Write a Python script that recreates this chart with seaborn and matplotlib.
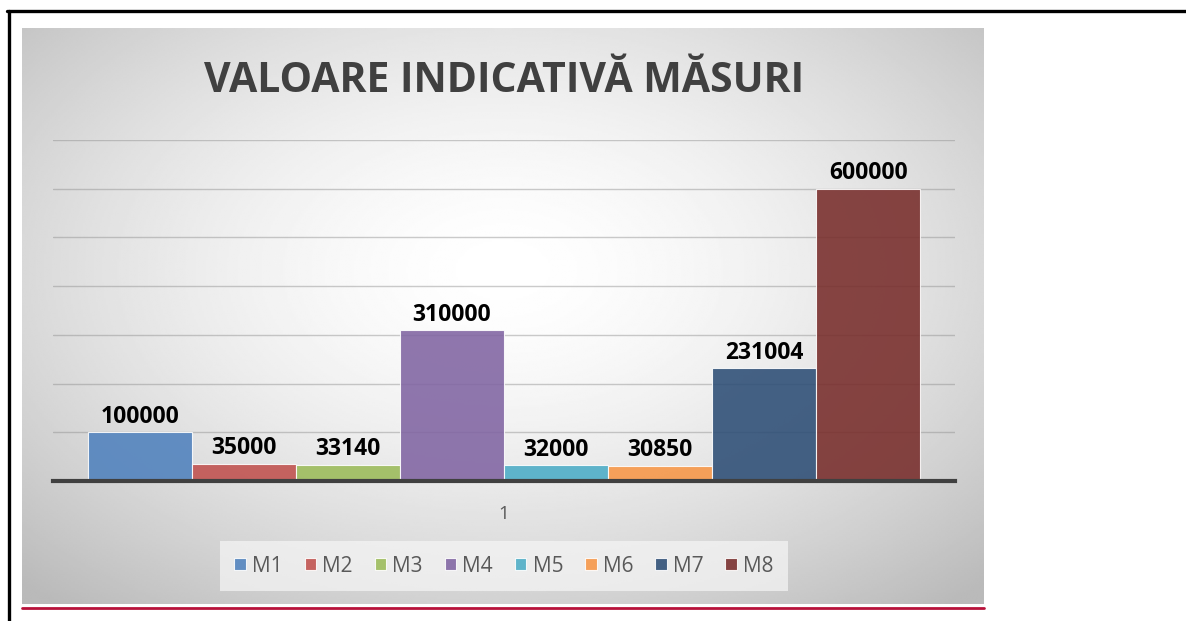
import numpy as np
import pandas as pd
import matplotlib
matplotlib.use('agg')
import matplotlib.pyplot as plt
import seaborn as sns

# data #
masuri = ["M1", "M2", "M3", "M4", "M5", "M6", "M7", "M8"]
valori = [100000, 35000, 33140, 310000, 32000, 30850, 231004, 600000]
categorie = ["1"] * len(masuri)
culori = ["#4F81BD", "#C0504D", "#9BBB59", "#8064A2", "#4BACC6", "#F79646", "#2C4D75", "#772C2A"]
titlu = "VALOARE INDICATIVĂ MĂSURI"

df = pd.DataFrame({"cat": categorie, "masura": masuri, "valoare": valori})

sns.set_style("white")
plt.rcParams['font.family'] = ['Open Sans', 'DejaVu Sans']

W, H = 1186, 621
fig = plt.figure(figsize=(W/100, H/100), dpi=100)

# gradient panel behind the chart
px0, px1, py0, py1 = 22, 984, 28, 604
bg = fig.add_axes([px0/W, 1-py1/H, (px1-px0)/W, (py1-py0)/H], zorder=0)
gy, gx = np.mgrid[0:1:300j, 0:1:500j]
r = np.sqrt(((gx-0.5)/1.0)**2 + ((gy-0.42)/1.05)**2)
shade = 1 - 0.27*np.clip(r/0.72, 0, 1)**1.6
bg.imshow(shade, cmap="gray", vmin=0, vmax=1, aspect="auto", interpolation="bilinear")
bg.set_axis_off()

# main axes
ax = fig.add_axes([53/W, 1-481/H, (955-53)/W, (481-140)/H], zorder=1)
ax.patch.set_alpha(0)
sns.barplot(data=df, x="cat", y="valoare", hue="masura", palette=culori, width=0.923,
            saturation=1, alpha=0.88, edgecolor="white", linewidth=0.8, ax=ax, legend=True)
ax.set_xlim(-0.5, 0.5)
ax.set_ylim(0, 700000)
ax.set_yticks(np.arange(0, 700001, 100000))
ax.set_yticklabels([])
ax.yaxis.grid(True, color="#8c8c8c", alpha=0.45, linewidth=1)
ax.set_axisbelow(True)
ax.tick_params(axis="both", length=0)
ax.set_xlabel("")
ax.set_ylabel("")
for s in ["top", "left", "right"]:
    ax.spines[s].set_visible(False)
ax.spines["bottom"].set_color("#404040")
ax.spines["bottom"].set_linewidth(3)
ax.set_xticks([0])
ax.set_xticklabels(["1"], fontsize=13.5, color="#595959")
ax.tick_params(axis="x", pad=17.5)

for cont in ax.containers:
    for bar in cont:
        h = bar.get_height()
        ax.annotate(f"{int(h)}", (bar.get_x()+bar.get_width()/2, h), xytext=(0, 2.5),
                    textcoords="offset points", ha="center", va="bottom",
                    fontsize=16.5, fontweight="bold", color="black")

handles, labels = ax.get_legend_handles_labels()
ax.legend_.remove()
leg = fig.legend(handles, labels, loc="center", bbox_to_anchor=(504/W, 1-566/H), ncol=8,
                 fontsize=15, frameon=True, facecolor="#f6f6f6", edgecolor="none", framealpha=0.7,
                 handlelength=0.55, handleheight=0.55, handletextpad=0.3, columnspacing=1.05,
                 borderpad=0.7, fancybox=False)
for t in leg.get_texts():
    t.set_color("#595959")

fig.text(504/W, 1-81/H, titlu, ha="center", va="center", fontsize=29.5, fontweight="bold", color="#404040")

# frame lines
fig.add_artist(plt.Line2D([7/W, 1], [1-11/H, 1-11/H], color="black", linewidth=2.4))
fig.add_artist(plt.Line2D([9/W, 9/W], [0, 1-11/H], color="black", linewidth=2.4))
fig.add_artist(plt.Line2D([px0/W, px1/W], [1-608/H, 1-608/H], color="#B8123A", linewidth=2))

plt.savefig("out.png", dpi=100)
plt.close()
